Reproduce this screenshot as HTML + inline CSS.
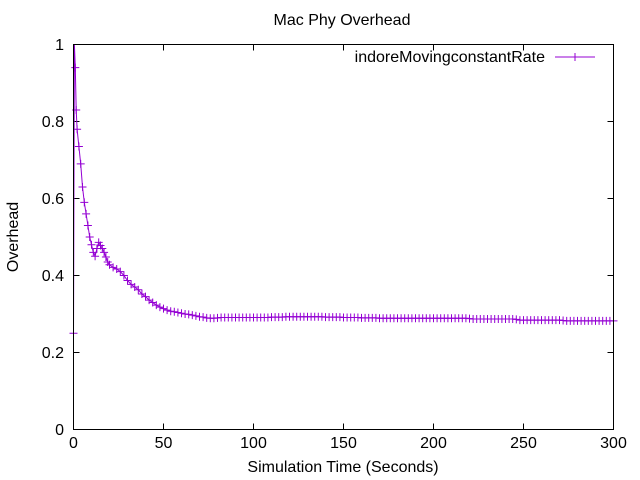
<!DOCTYPE html>
<html><head><meta charset="utf-8"><style>
body{margin:0;background:#fff}
svg{display:block;font-family:"Liberation Sans",sans-serif}
</style></head><body>
<svg id="chart" width="640" height="480" viewBox="0 0 640 480">
<text x="342" y="25" font-size="16" text-anchor="middle">Mac Phy Overhead</text>
<text transform="translate(18,237) rotate(-90)" font-size="16" text-anchor="middle">Overhead</text>
<text x="343" y="472" font-size="16" text-anchor="middle">Simulation Time (Seconds)</text>
<g id="axes"></g>
<g id="series"></g>
<rect x="73.5" y="44.5" width="540" height="385" fill="none" stroke="#000" stroke-width="1"/>
<g>
<text x="545" y="62" font-size="16" text-anchor="end">indoreMovingconstantRate</text>
<line x1="555" y1="57" x2="595" y2="57" stroke="#9400d3" stroke-width="1"/>
<path d="M571 57h8M575 53v8" stroke="#9400d3" stroke-width="1"/>
</g>
</svg>
<script>
const xTicks=[0,50,100,150,200,250,300];
const yTicks=[0,0.2,0.4,0.6,0.8,1];
const yTickLabels=["0","0.2","0.4","0.6","0.8","1"];
const times=[0,0.5,1,1.5,2,3,4,5,6,7,8,9,10,11,12,13,14,15,16,17,18,19,20,22,24,26,28,30,32,34,36,38,40,42,44,46,48,50,52,54,56,58,60,62,64,66,68,70,72,74,76,78,80,82,84,86,88,90,92,94,96,98,100,102,104,106,108,110,112,114,116,118,120,122,124,126,128,130,132,134,136,138,140,142,144,146,148,150,152,154,156,158,160,162,164,166,168,170,172,174,176,178,180,182,184,186,188,190,192,194,196,198,200,202,204,206,208,210,212,214,216,218,220,222,224,226,228,230,232,234,236,238,240,242,244,246,248,250,252,254,256,258,260,262,264,266,268,270,272,274,276,278,280,282,284,286,288,290,292,294,296,298,300];
const values=[0.25,1.0,0.94,0.83,0.78,0.735,0.69,0.63,0.59,0.56,0.53,0.5,0.48,0.46,0.45,0.47,0.486,0.478,0.47,0.46,0.448,0.435,0.428,0.421,0.417,0.41,0.4,0.387,0.377,0.37,0.363,0.352,0.345,0.336,0.33,0.323,0.318,0.314,0.31,0.307,0.306,0.304,0.302,0.3,0.299,0.297,0.295,0.293,0.292,0.29,0.289,0.289,0.29,0.291,0.291,0.291,0.291,0.291,0.291,0.291,0.291,0.291,0.291,0.291,0.291,0.291,0.291,0.292,0.292,0.292,0.292,0.293,0.293,0.293,0.293,0.293,0.293,0.293,0.293,0.293,0.293,0.293,0.292,0.292,0.292,0.292,0.292,0.291,0.291,0.291,0.291,0.291,0.29,0.29,0.29,0.29,0.29,0.289,0.289,0.289,0.289,0.289,0.289,0.289,0.289,0.289,0.289,0.289,0.289,0.289,0.289,0.289,0.289,0.289,0.289,0.289,0.289,0.289,0.289,0.289,0.289,0.289,0.288,0.287,0.287,0.287,0.287,0.287,0.287,0.287,0.287,0.287,0.287,0.287,0.287,0.286,0.284,0.284,0.284,0.284,0.284,0.284,0.284,0.284,0.284,0.284,0.284,0.284,0.283,0.282,0.282,0.282,0.282,0.282,0.282,0.282,0.282,0.282,0.282,0.282,0.282,0.282,0.282,0.282];
const X=t=>73.5+t*540/300;
const Y=v=>429.5-v*385;
const NS="http://www.w3.org/2000/svg";
const axes=document.getElementById('axes');
function mk(tag,attrs,parent){const e=document.createElementNS(NS,tag);for(const k in attrs)e.setAttribute(k,attrs[k]);parent.appendChild(e);return e;}
xTicks.forEach(t=>{
  const x=X(t);
  const tk=mk('path',{d:`M${x} 429.5v-6M${x} 44.5v6`,stroke:'#000'},axes);
  
  
  const lb=mk('text',{x:x,y:448,'font-size':16,'text-anchor':'middle'},axes);
  lb.textContent=String(t);
  
  
});
yTicks.forEach((v,i)=>{
  const y=Y(v);
  const tk=mk('path',{d:`M73.5 ${y}h6M613.5 ${y}h-6`,stroke:'#000'},axes);
  
  
  const lb=mk('text',{x:64,y:y+5.5,'font-size':16,'text-anchor':'end'},axes);
  lb.textContent=yTickLabels[i];
  
  
});
const ser=document.getElementById('series');
const line=mk('polyline',{points:times.map((t,i)=>X(t)+','+Y(values[i])).join(' '),fill:'none',stroke:'#9400d3','stroke-width':1},ser);


times.forEach((t,i)=>{
  if(t===0.5)return;
  const x=X(t),y=Y(values[i]);
  const m=mk('path',{d:`M${x-4} ${y}h8M${x} ${y-4}v8`,stroke:'#9400d3','stroke-width':1},ser);
  
  
});
</script>
</body></html>
